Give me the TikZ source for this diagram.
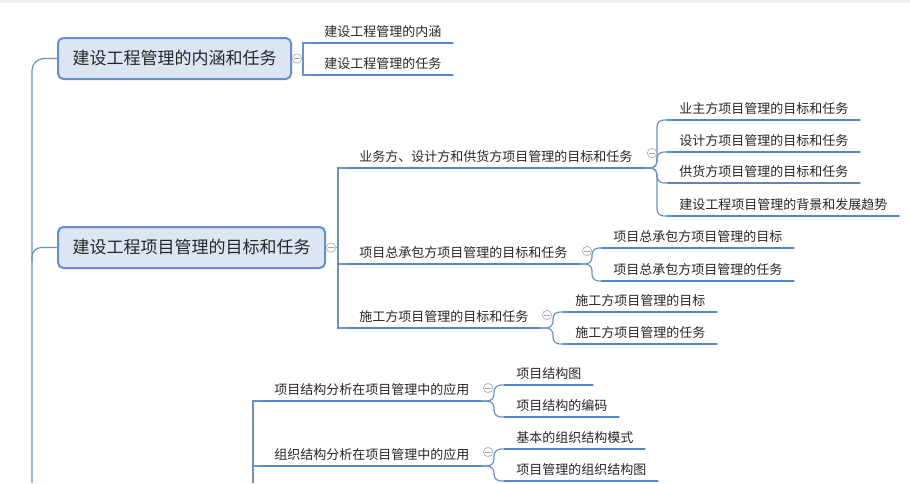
\documentclass[tikz,border=0pt]{standalone}
\usepackage{fontspec}
\setmainfont{Noto Sans CJK SC}
\usepackage{tikz}
\pgfdeclarelayer{edgelayer}
\pgfdeclarelayer{nodelayer}
\pgfsetlayers{edgelayer,nodelayer,main}
\definecolor{linkblue}{RGB}{107,146,198}
\definecolor{barblue}{RGB}{88,134,197}
\definecolor{boxfill}{RGB}{220,230,242}
\definecolor{boxline}{RGB}{100,142,204}
\definecolor{inkgray}{RGB}{38,38,38}
\tikzstyle{mainbox}=[draw=boxline, line width=1.5pt, fill=boxfill, rounded corners=4pt, minimum height=30.75pt, inner xsep=10.9pt, font=\fontsize{12.75pt}{15pt}\selectfont, text=inkgray, anchor=west]
\tikzstyle{topic}=[inner xsep=8.25pt, inner ysep=4pt, font=\fontsize{9.75pt}{12pt}\selectfont, text=inkgray, anchor=south west]
\tikzstyle{bar}=[draw=barblue, line width=2pt, line cap=round]
\tikzstyle{link}=[draw=linkblue, line width=0.9pt]
\tikzstyle{curvelink}=[draw=linkblue, line width=0.9pt, rounded corners=5pt]
\tikzstyle{fold}=[circle, draw=gray!55, fill=white, line width=0.6pt, minimum size=7pt, inner sep=0pt, path picture={\draw[gray!70, line width=0.6pt] ([xshift=-2pt]path picture bounding box.center) -- ([xshift=2pt]path picture bounding box.center);}]

\begin{document}
\begin{tikzpicture}[x=0.75pt, y=-0.75pt]
	\useasboundingbox (0, 0) rectangle (910, 483);
	\fill [gray!12] (0, 0) rectangle (910, 2.5);
	\begin{pgfonlayer}{nodelayer}
		\node [style=mainbox] (1) at (57, 58.5) {建设工程管理的内涵和任务};
		\node [style=topic] (2) at (313, 43) {建设工程管理的内涵};
		\node [style=topic] (3) at (313, 75) {建设工程管理的任务};
		\node [style=mainbox] (4) at (57, 247.5) {建设工程项目管理的目标和任务};
		\node [style=topic] (5) at (348, 168) {业务方、设计方和供货方项目管理的目标和任务};
		\node [style=topic] (6) at (348, 264) {项目总承包方项目管理的目标和任务};
		\node [style=topic] (7) at (348, 328) {施工方项目管理的目标和任务};
		\node [style=topic] (8) at (668, 120) {业主方项目管理的目标和任务};
		\node [style=topic] (9) at (668, 152) {设计方项目管理的目标和任务};
		\node [style=topic] (10) at (668, 183) {供货方项目管理的目标和任务};
		\node [style=topic] (11) at (668, 216) {建设工程项目管理的背景和发展趋势};
		\node [style=topic] (12) at (602, 248) {项目总承包方项目管理的目标};
		\node [style=topic] (13) at (602, 281) {项目总承包方项目管理的任务};
		\node [style=topic] (14) at (564, 312) {施工方项目管理的目标};
		\node [style=topic] (15) at (564, 344) {施工方项目管理的任务};
		\node [style=topic] (16) at (263, 401) {项目结构分析在项目管理中的应用};
		\node [style=topic] (17) at (263, 466) {组织结构分析在项目管理中的应用};
		\node [style=topic] (18) at (505, 385) {项目结构图};
		\node [style=topic] (19) at (505, 417) {项目结构的编码};
		\node [style=topic] (20) at (505, 449) {基本的组织结构模式};
		\node [style=topic] (21) at (505, 481) {项目管理的组织结构图};
		\node [style=fold] (f1) at (297, 58.5) {};
		\node [style=fold] (f2) at (331, 247.5) {};
		\node [style=fold] (f3) at (652, 153) {};
		\node [style=fold] (f4) at (587, 251) {};
		\node [style=fold] (f5) at (547, 315) {};
		\node [style=fold] (f6) at (488, 388) {};
		\node [style=fold] (f7) at (488, 452) {};
		\coordinate (s0) at (32, 483);
		\coordinate (s1) at (32, 262);
		\coordinate (j1) at (303, 58.5);
		\coordinate (j2) at (338, 247.5);
		\coordinate (j3) at (657, 168);
		\coordinate (j4) at (592, 264);
		\coordinate (j5) at (553, 328);
		\coordinate (j6) at (253, 483);
		\coordinate (j7) at (494, 401);
		\coordinate (j8) at (494, 466);
	\end{pgfonlayer}
	\begin{pgfonlayer}{edgelayer}
		% spine
		\draw [style=link, rounded corners=9pt] (s0) |- (1.west);
		\draw [style=link, rounded corners=7pt] (s1) |- (4.west);
		% first box
		\draw [style=link] (1.east) -- (j1);
		\draw [style=link] (j1) |- (2.south west);
		\draw [style=link] (j1) |- (3.south west);
		% second box
		\draw [style=link] (4.east) -- (j2);
		\draw [style=link] (j2) |- (5.south west);
		\draw [style=link] (j2) |- (6.south west);
		\draw [style=link] (j2) |- (7.south west);
		\draw [style=curvelink] (5.south east) -- (j3) |- (8.south west);
		\draw [style=curvelink] (5.south east) -- (j3) |- (9.south west);
		\draw [style=curvelink] (5.south east) -- (j3) |- (10.south west);
		\draw [style=curvelink] (5.south east) -- (j3) |- (11.south west);
		\draw [style=curvelink] (6.south east) -- (j4) |- (12.south west);
		\draw [style=curvelink] (6.south east) -- (j4) |- (13.south west);
		\draw [style=curvelink] (7.south east) -- (j5) |- (14.south west);
		\draw [style=curvelink] (7.south east) -- (j5) |- (15.south west);
		% third box (below the view)
		\draw [style=link] (j6) |- (16.south west);
		\draw [style=link] (j6) |- (17.south west);
		\draw [style=curvelink] (16.south east) -- (j7) |- (18.south west);
		\draw [style=curvelink] (16.south east) -- (j7) |- (19.south west);
		\draw [style=curvelink] (17.south east) -- (j8) |- (20.south west);
		\draw [style=curvelink] (17.south east) -- (j8) |- (21.south west);
		% underlines
		\foreach \n in {2,3,5,6,7,8,9,10,11,12,13,14,15,16,17,18,19,20,21}
			\draw [style=bar] (\n.south west) -- (\n.south east);
	\end{pgfonlayer}
\end{tikzpicture}
\end{document}
